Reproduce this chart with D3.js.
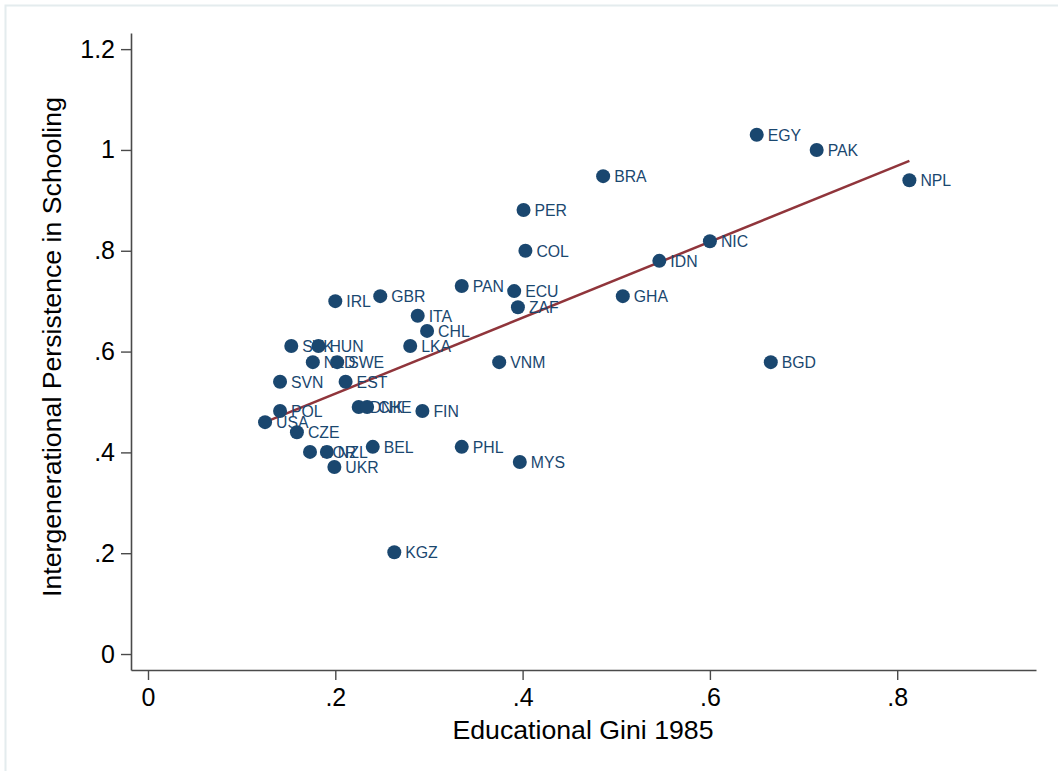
<!DOCTYPE html>
<html>
<head>
<meta charset="utf-8">
<script src="https://cdn.jsdelivr.net/npm/d3@7"></script>
<style>
  html, body { margin: 0; padding: 0; background: #ffffff; }
  svg { display: block; font-family: "Liberation Sans", Arial, sans-serif; }
</style>
</head>
<body>
<svg id="chart" width="1058" height="771"></svg>
<script>
// Country codes
const countries = ["EGY","PAK","NPL","BRA","PER","COL","NIC","IDN","PAN","ECU","ZAF","GHA",
  "IRL","GBR","ITA","CHL","LKA","SVK","HUN","NLD","SWE","VNM","BGD","SVN","EST","DNK","CHE",
  "FIN","POL","USA","CZE","NOR","NZL","BEL","UKR","PHL","MYS","KGZ"];
// Educational Gini, 1985
const gini = [0.650,0.714,0.813,0.486,0.401,0.403,0.600,0.546,0.335,0.391,0.395,0.507,
  0.200,0.248,0.288,0.298,0.280,0.153,0.182,0.176,0.202,0.375,0.665,0.141,0.211,0.225,0.234,
  0.293,0.141,0.125,0.159,0.173,0.191,0.240,0.199,0.335,0.397,0.263];
// Intergenerational persistence in schooling
const persistence = [1.030,1.000,0.940,0.948,0.881,0.800,0.819,0.780,0.730,0.720,0.688,0.710,
  0.700,0.710,0.671,0.641,0.611,0.611,0.611,0.579,0.579,0.579,0.579,0.540,0.540,0.490,0.490,
  0.482,0.482,0.460,0.440,0.401,0.401,0.411,0.371,0.411,0.381,0.202];

const xTicks = [0, 0.2, 0.4, 0.6, 0.8];
const yTicks = [0, 0.2, 0.4, 0.6, 0.8, 1, 1.2];
const xTitle = "Educational Gini 1985";
const yTitle = "Intergenerational Persistence in Schooling";

const svg = d3.select("#chart");
const axisColor = "#4a4a4a";
const markColor = "#1a476f";
const fitColor = "#90353b";

// outer frame
svg.append("rect").attr("x", 5.5).attr("y", 5.5).attr("width", 1060).attr("height", 780)
  .attr("fill", "none").attr("stroke", "#e4ecee").attr("stroke-width", 2);

const x = d3.scaleLinear().domain([-0.01815, 0.9482]).range([131, 1036]);
const y = d3.scaleLinear().domain([-0.0317, 1.232]).range([670, 33]);

const fmt = v => v === 0 ? "0" : d3.format("~g")(v).replace(/^0\./, ".");

// y axis
const gy = svg.append("g").attr("transform", "translate(131,0)")
  .call(d3.axisLeft(y).tickValues(yTicks).tickFormat(fmt).tickSize(10).tickSizeOuter(0).tickPadding(6));
// x axis
const gx = svg.append("g").attr("transform", "translate(0,670)")
  .call(d3.axisBottom(x).tickValues(xTicks).tickFormat(fmt).tickSize(10).tickSizeOuter(0).tickPadding(8));

[gx, gy].forEach(g => {
  g.select(".domain").attr("stroke", axisColor).attr("stroke-width", 1.6);
  g.selectAll(".tick line").attr("stroke", axisColor).attr("stroke-width", 1.4);
  g.selectAll(".tick text").attr("fill", "#000").attr("font-size", 25)
    .attr("font-family", "'Liberation Sans', Arial, sans-serif");
});

// axis titles
svg.append("text").attr("x", 583).attr("y", 739).attr("text-anchor", "middle")
  .attr("font-size", 26.7).attr("fill", "#000").text(xTitle);
svg.append("text").attr("transform", "translate(61,347) rotate(-90)")
  .attr("text-anchor", "middle").attr("font-size", 26.7).attr("fill", "#000").text(yTitle);

// least-squares fit line over the observed range
const n = gini.length;
const mx = d3.mean(gini), my = d3.mean(persistence);
let sxy = 0, sxx = 0;
for (let i = 0; i < n; i++) {
  sxy += (gini[i] - mx) * (persistence[i] - my);
  sxx += (gini[i] - mx) ** 2;
}
const slope = sxy / sxx, intercept = my - slope * mx;
const [x0, x1] = d3.extent(gini);
svg.append("line")
  .attr("x1", x(x0)).attr("y1", y(intercept + slope * x0))
  .attr("x2", x(x1)).attr("y2", y(intercept + slope * x1))
  .attr("stroke", fitColor).attr("stroke-width", 2.5);

// points and labels
const data = countries.map((c, i) => ({ c, g: gini[i], p: persistence[i] }));
svg.append("g").selectAll("circle").data(data).join("circle")
  .attr("cx", d => x(d.g)).attr("cy", d => y(d.p)).attr("r", 7)
  .attr("fill", markColor);
svg.append("g").selectAll("text").data(data).join("text")
  .attr("x", d => x(d.g) + 11).attr("y", d => y(d.p) + 6)
  .attr("font-size", 15.8).attr("fill", markColor).text(d => d.c);
</script>
</body>
</html>
